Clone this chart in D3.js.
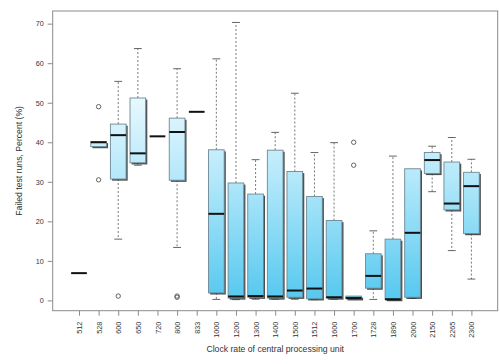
<!DOCTYPE html>
<html>
<head>
<meta charset="utf-8">
<script src="https://cdn.jsdelivr.net/npm/d3@7"></script>
<style>
  html, body { margin: 0; padding: 0; background: #fff; }
  svg { display: block; font-family: "Liberation Sans", Arial, sans-serif; }
</style>
</head>
<body>
<svg id="chart" width="500" height="364"></svg>
<script>
// ---- data ----
const categories = ["512","528","600","650","720","800","833","1000","1200","1300","1400","1500","1512","1600","1700","1728","1890","2000","2150","2265","2300"];
const whiskerLow  = [6.9, 39.0, 15.5, 34.2, 41.5, 13.4, 47.7, 0.25, 0.2, 0.3, 0.3, 0.3, 0.2, 0.3, 0.3, 0.25, 0.1, 0.5, 27.5, 12.6, 5.4];
const quartile1   = [6.9, 38.9, 30.7, 34.8, 41.5, 30.4, 47.7, 1.9, 0.6, 0.8, 0.6, 0.8, 0.4, 0.6, 0.4, 3.1, 0.2, 0.8, 32.1, 22.9, 16.9];
const medians     = [6.9, 40.0, 41.8, 37.2, 41.5, 42.6, 47.7, 21.9, 1.0, 1.1, 1.0, 2.5, 3.0, 0.8, 0.6, 6.2, 0.3, 17.1, 35.5, 24.5, 28.9];
const quartile3   = [6.9, 40.2, 44.6, 51.2, 41.5, 46.1, 47.7, 38.1, 29.7, 26.9, 38.0, 32.6, 26.3, 20.2, 1.1, 11.8, 15.5, 33.3, 37.4, 35.0, 32.4];
const whiskerHigh = [6.9, 40.2, 55.4, 63.7, 41.5, 58.6, 47.7, 61.1, 70.3, 35.6, 42.5, 52.4, 37.4, 39.9, 1.1, 17.6, 36.5, 33.3, 39.0, 41.2, 35.7];
const outlierCats = ["528","528","600","800","800","1700","1700"];
const outlierVals = [49.0, 30.5, 1.1, 0.8, 1.1, 40.0, 34.2];
const yTicks = [0, 10, 20, 30, 40, 50, 60, 70];
const xTitle = "Clock rate of central processing unit";
const yTitle = "Failed test runs, Percent (%)";

// ---- layout ----
const FONT = "'Liberation Sans', Arial, sans-serif";
const plot = { left: 52.7, right: 497.7, top: 11, bottom: 310.7 };
const svg = d3.select("#chart");

// x: index positions, R style (0.5..n+0.5 with 4% padding)
const n = categories.length;
const xPad = 0.04 * n;
const xIdx = d3.scaleLinear().domain([0.5 - xPad, n + 0.5 + xPad]).range([plot.left, plot.right]);
const xPos = c => xIdx(categories.indexOf(c) + 1);
const step = xIdx(2) - xIdx(1);
const boxW = 0.8 * step;

const y = d3.scaleLinear().domain([-2.6, 73.2]).range([plot.bottom, plot.top]);

const defs = svg.append("defs");
const grad = defs.append("linearGradient")
  .attr("id", "boxgrad").attr("gradientUnits", "userSpaceOnUse")
  .attr("x1", 0).attr("x2", 0).attr("y1", y(56)).attr("y2", y(0));
grad.append("stop").attr("offset", "0%").attr("stop-color", "#f4fcff");
grad.append("stop").attr("offset", "45%").attr("stop-color", "#b3e8fa");
grad.append("stop").attr("offset", "100%").attr("stop-color", "#55c8ef");

// frame
svg.append("rect")
  .attr("x", plot.left).attr("y", plot.top)
  .attr("width", plot.right - plot.left).attr("height", plot.bottom - plot.top)
  .attr("fill", "none").attr("stroke", "#8a8a8a").attr("stroke-width", 1);

// axes
const yAxis = d3.axisLeft(y).tickValues(yTicks).tickSize(5).tickPadding(4);
const gy = svg.append("g").attr("transform", `translate(${plot.left},0)`).call(yAxis);
gy.attr("font-family", FONT).attr("font-size", 7.2);
gy.select(".domain").remove();
gy.selectAll(".tick line").attr("stroke", "#8a8a8a");
gy.selectAll(".tick text").attr("fill", "#333");

const xAxis = d3.axisBottom(xIdx).tickValues(d3.range(1, n + 1)).tickFormat(i => categories[i - 1]).tickSize(5).tickPadding(6);
const gx = svg.append("g").attr("transform", `translate(0,${plot.bottom})`).call(xAxis);
gx.attr("font-family", FONT).attr("font-size", 7.2);
gx.select(".domain").remove();
gx.selectAll(".tick line").attr("stroke", "#8a8a8a");
gx.selectAll(".tick text")
  .attr("fill", "#333")
  .attr("transform", "rotate(-90)")
  .attr("text-anchor", "end")
  .attr("x", -11).attr("y", 0).attr("dy", "0.35em");

// titles
svg.append("text").attr("x", (plot.left + plot.right) / 2).attr("y", 352)
  .attr("text-anchor", "middle").attr("fill", "#333")
  .attr("font-family", FONT).attr("font-size", 8.66).text(xTitle);
svg.append("text").attr("transform", `translate(22,${(plot.top + plot.bottom) / 2}) rotate(-90)`)
  .attr("text-anchor", "middle").attr("fill", "#333")
  .attr("font-family", FONT).attr("font-size", 8.66).text(yTitle);

// boxes
const rows = categories.map((c, i) => ({
  c, lo: whiskerLow[i], q1: quartile1[i], med: medians[i], q3: quartile3[i], hi: whiskerHigh[i]
}));
const g = svg.append("g");

rows.forEach(d => {
  const cx = xPos(d.c);
  if (d.hi > d.q3) {
    g.append("line").attr("x1", cx).attr("x2", cx).attr("y1", y(d.q3)).attr("y2", y(d.hi))
      .attr("stroke", "#555").attr("stroke-width", 0.8).attr("stroke-dasharray", "2,2");
    g.append("line").attr("x1", cx - boxW / 4).attr("x2", cx + boxW / 4).attr("y1", y(d.hi)).attr("y2", y(d.hi))
      .attr("stroke", "#555").attr("stroke-width", 0.9);
  }
  if (d.lo < d.q1) {
    g.append("line").attr("x1", cx).attr("x2", cx).attr("y1", y(d.q1)).attr("y2", y(d.lo))
      .attr("stroke", "#555").attr("stroke-width", 0.8).attr("stroke-dasharray", "2,2");
    g.append("line").attr("x1", cx - boxW / 4).attr("x2", cx + boxW / 4).attr("y1", y(d.lo)).attr("y2", y(d.lo))
      .attr("stroke", "#555").attr("stroke-width", 0.9);
  }
  if (d.q3 > d.q1) {
    g.append("rect").attr("x", cx - boxW / 2 + 1.6).attr("y", y(d.q3) + 1.6)
      .attr("width", boxW).attr("height", y(d.q1) - y(d.q3))
      .attr("fill", "#2e2e2e").attr("opacity", 0.85);
    g.append("rect").attr("x", cx - boxW / 2).attr("y", y(d.q3))
      .attr("width", boxW).attr("height", y(d.q1) - y(d.q3))
      .attr("fill", "url(#boxgrad)").attr("stroke", "#6d8894").attr("stroke-width", 0.9);
  }
  g.append("line").attr("x1", cx - boxW / 2).attr("x2", cx + boxW / 2)
    .attr("y1", y(d.med)).attr("y2", y(d.med))
    .attr("stroke", "#111").attr("stroke-width", 2);
});

// outliers
g.selectAll("circle.out").data(outlierVals.map((v, i) => ({ c: outlierCats[i], v })))
  .join("circle").attr("class", "out")
  .attr("cx", d => xPos(d.c)).attr("cy", d => y(d.v)).attr("r", 2.2)
  .attr("fill", "none").attr("stroke", "#555").attr("stroke-width", 0.9);
</script>
</body>
</html>
